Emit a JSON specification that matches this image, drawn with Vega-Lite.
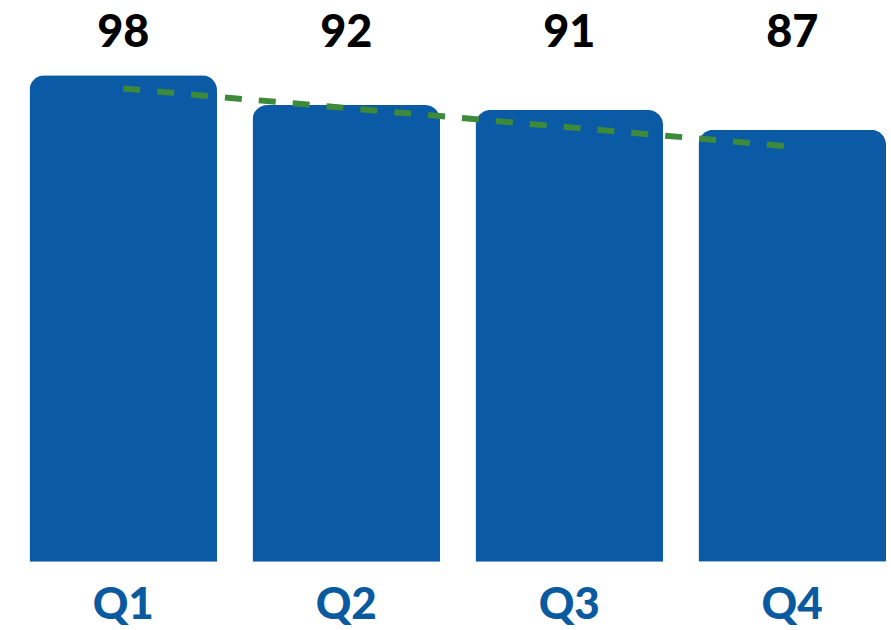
{
  "$schema": "https://vega.github.io/schema/vega-lite/v6.json",
  "autosize": "none",
  "width": 856.5,
  "height": 561.7,
  "padding": {"left": 29.5, "right": 5, "top": 0, "bottom": 68.3},
  "background": "white",
  "config": {"view": {"stroke": null}},
  "datasets": {
    "bars": [
      {"quarter": "Q1", "value": 98},
      {"quarter": "Q2", "value": 92},
      {"quarter": "Q3", "value": 91},
      {"quarter": "Q4", "value": 87}
    ],
    "trend": [
      {"quarter": "Q1", "trend": 95.3},
      {"quarter": "Q4", "trend": 83.6}
    ]
  },
  "encoding": {
    "x": {
      "field": "quarter",
      "type": "nominal",
      "sort": null,
      "scale": {"paddingInner": 0.159, "paddingOuter": 0},
      "axis": {
        "title": null,
        "domain": false,
        "ticks": false,
        "tickSize": 0,
        "labelAngle": 0,
        "labelPadding": 57,
        "labelBaseline": "alphabetic",
        "labelFont": "Lato",
        "labelFontWeight": 900,
        "labelFontSize": 44,
        "labelColor": "#0a5aa0"
      }
    }
  },
  "layer": [
    {
      "data": {"name": "bars"},
      "mark": {"type": "bar", "color": "#0b5aa6", "cornerRadiusTopLeft": 15, "cornerRadiusTopRight": 15},
      "encoding": {
        "y": {"field": "value", "type": "quantitative", "scale": {"domain": [0, 113.15], "nice": false, "zero": true}, "axis": null}
      }
    },
    {
      "data": {"name": "trend"},
      "mark": {"type": "line", "color": "#3d8a3a", "strokeWidth": 6, "strokeDash": [17, 17]},
      "encoding": {
        "y": {"field": "trend", "type": "quantitative"}
      }
    },
    {
      "data": {"name": "bars"},
      "mark": {"type": "text", "font": "Lato", "fontWeight": 900, "fontSize": 45, "color": "#000000", "baseline": "alphabetic", "align": "center"},
      "encoding": {
        "y": {"datum": 103.7, "type": "quantitative"},
        "text": {"field": "value", "type": "quantitative"}
      }
    }
  ]
}
